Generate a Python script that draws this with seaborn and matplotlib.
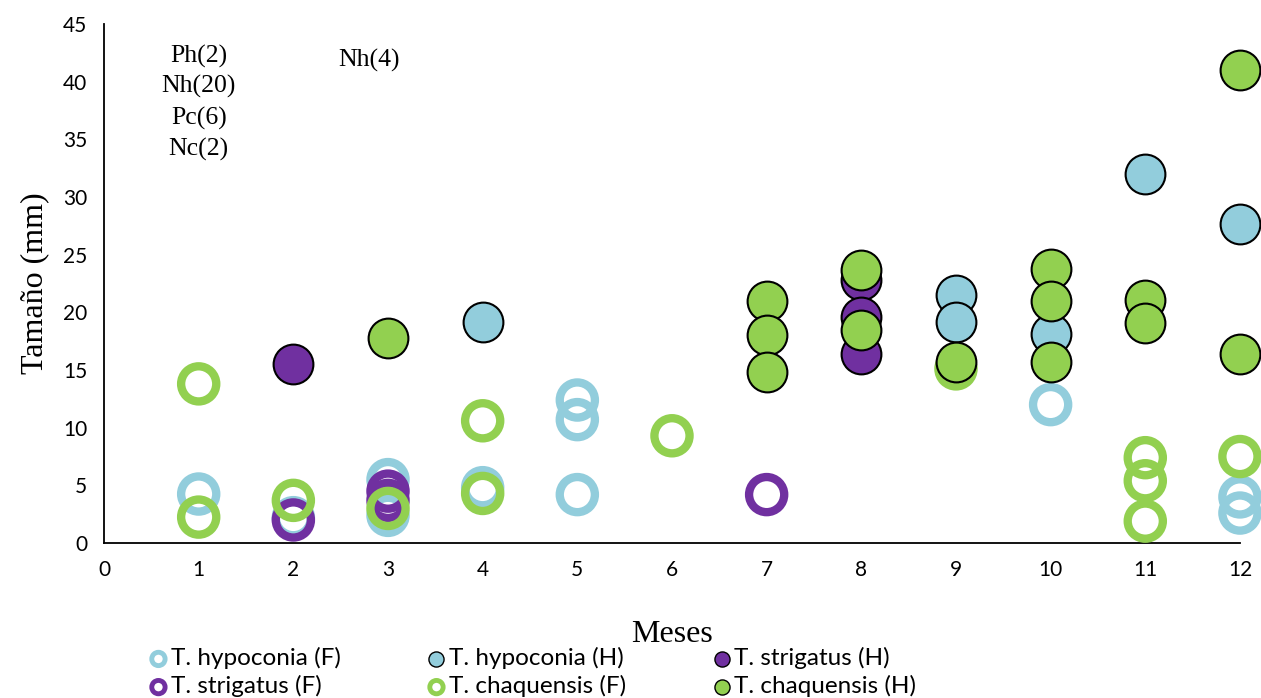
import matplotlib
matplotlib.use("Agg")
import matplotlib.pyplot as plt
import seaborn as sns
import pandas as pd

sns.set_style("white")
plt.rcParams['font.family'] = ['Lato', 'DejaVu Sans']
plt.rcParams['text.color'] = 'black'
plt.rcParams['axes.labelcolor'] = 'black'
plt.rcParams['xtick.color'] = 'black'
plt.rcParams['ytick.color'] = 'black'

# Data (month, size mm)
hyp_F_x = [1, 2, 3, 3, 4, 5, 5, 5, 10, 12, 12]
hyp_F_y = [4.25, 2.2, 5.5, 2.4, 4.8, 12.4, 10.7, 4.2, 12.0, 4.0, 2.6]
hyp_H_x = [4, 9, 9, 10, 11, 12]
hyp_H_y = [19.2, 21.5, 19.2, 18.1, 32.0, 27.7]
str_H_x = [2, 8, 8, 8]
str_H_y = [15.5, 22.8, 19.6, 16.4]
str_F_x = [2, 3, 3, 7]
str_F_y = [2.0, 4.5, 3.7, 4.2]
chq_F_x = [1, 1, 2, 3, 4, 4, 6, 9, 11, 11, 11, 12]
chq_F_y = [13.8, 2.25, 3.7, 3.0, 10.6, 4.3, 9.3, 15.1, 7.4, 5.4, 1.9, 7.5]
chq_H_x = [3, 7, 7, 7, 8, 8, 9, 10, 10, 10, 11, 11, 12, 12]
chq_H_y = [17.8, 21.0, 18.0, 14.8, 23.7, 18.5, 15.7, 23.8, 21.0, 15.7, 21.1, 19.1, 41.0, 16.4]

series = [
    ("T. hypoconia (F)", hyp_F_x, hyp_F_y, "#92CDDC", False),
    ("T. hypoconia (H)", hyp_H_x, hyp_H_y, "#92CDDC", True),
    ("T. strigatus (H)", str_H_x, str_H_y, "#7030A0", True),
    ("T. strigatus (F)", str_F_x, str_F_y, "#7030A0", False),
    ("T. chaquensis (F)", chq_F_x, chq_F_y, "#92D050", False),
    ("T. chaquensis (H)", chq_H_x, chq_H_y, "#92D050", True),
]

fig = plt.figure(figsize=(12.61, 6.98), dpi=100)
ax = fig.add_axes([0.0825, 0.222, 0.9008, 0.7436])

for z, (name, xs, ys, col, filled) in enumerate(series):
    df = pd.DataFrame({"Mes": xs, "Tam": ys})
    if filled:
        sns.scatterplot(data=df, x="Mes", y="Tam", ax=ax, s=820, color=col,
                        edgecolor="black", linewidth=1.5, zorder=3 + z, label=name,
                        clip_on=False)
    else:
        sns.scatterplot(data=df, x="Mes", y="Tam", ax=ax, s=640, facecolors="none",
                        edgecolor=col, linewidth=6, zorder=3 + z, label=name,
                        clip_on=False)

ax.set_xlim(0, 12)
ax.set_ylim(0, 45)
ax.set_xticks(range(0, 13))
ax.set_yticks(range(0, 46, 5))
for s in ["top", "right"]:
    ax.spines[s].set_visible(False)
for s in ["left", "bottom"]:
    ax.spines[s].set_color("black")
    ax.spines[s].set_linewidth(1.3)
ax.tick_params(axis="both", which="major", direction="out", length=6, width=1.3,
               color="black", labelsize=15, pad=6)
ax.grid(False)

ax.set_xlabel("Meses", fontfamily="Liberation Serif", fontsize=23, labelpad=29)
ax.set_ylabel("Tamaño (mm)", fontfamily="Liberation Serif", fontsize=23, labelpad=10)

for txt, yv in [("Ph(2)", 42.2), ("Nh(20)", 39.6), ("Pc(6)", 36.85), ("Nc(2)", 34.1)]:
    ax.text(1, yv, txt, ha="center", va="center", fontfamily="Liberation Serif", fontsize=18.5)
ax.text(2.8, 41.8, "Nh(4)", ha="center", va="center", fontfamily="Liberation Serif", fontsize=18.5)

h, l = ax.get_legend_handles_labels()
order = [0, 3, 1, 4, 2, 5]
leg = ax.legend([h[i] for i in order], [l[i] for i in order], ncol=3,
                loc="upper left", bbox_to_anchor=(0.0265, -0.182), frameon=False,
                fontsize=17.5, markerscale=0.38, handletextpad=-0.1, columnspacing=3.35,
                labelspacing=0.25, handlelength=1.2, borderaxespad=0)
for lh in leg.legend_handles:
    try:
        lw = lh.get_linewidths()
        if len(lw) and lw[0] > 3:
            lh.set_linewidths([3.5])
        else:
            lh.set_linewidths([1])
    except Exception:
        pass

fig.savefig("out.png", dpi=100)
